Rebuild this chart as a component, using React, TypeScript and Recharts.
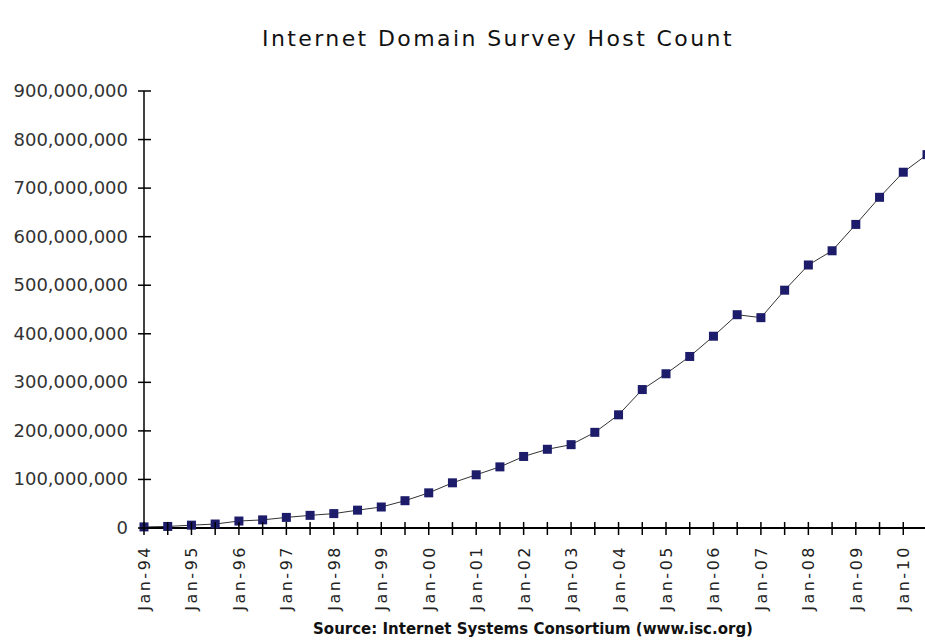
import { LineChart, Line, XAxis, YAxis } from 'recharts';

const periods = [
  'Jan-94', 'Jul-94', 'Jan-95', 'Jul-95', 'Jan-96', 'Jul-96', 'Jan-97', 'Jul-97',
  'Jan-98', 'Jul-98', 'Jan-99', 'Jul-99', 'Jan-00', 'Jul-00', 'Jan-01', 'Jul-01',
  'Jan-02', 'Jul-02', 'Jan-03', 'Jul-03', 'Jan-04', 'Jul-04', 'Jan-05', 'Jul-05',
  'Jan-06', 'Jul-06', 'Jan-07', 'Jul-07', 'Jan-08', 'Jul-08', 'Jan-09', 'Jul-09',
  'Jan-10', 'Jul-10',
];

const hosts = [
  2217000, 3212000, 5846000, 8200000, 14352000, 16729000, 21819000, 26053000,
  29670000, 36739000, 43230000, 56218000, 72398000, 93048000, 109574000, 125888000,
  147345000, 162128000, 171638000, 197000000, 233101000, 285139000, 317646000, 353284000,
  394992000, 439286000, 433193000, 489774000, 541677000, 570938000, 625226000, 681065000,
  732740000, 768913000,
];

const yTicks = [0, 100000000, 200000000, 300000000, 400000000, 500000000, 600000000, 700000000, 800000000, 900000000];

const data = periods.map((p, i) => ({ period: p, hosts: hosts[i] }));

const font = '"DejaVu Sans", Arial, sans-serif';

function XTick(props: any) {
  const { x, y, payload } = props;
  const label: string = payload.value;
  return (
    <g>
      <line x1={x} y1={y - 6} x2={x} y2={y + 7} stroke="#000" strokeWidth={1.5} />
      {label.startsWith('Jan') && (
        <text
          x={x + 6}
          y={y + 17}
          transform={`rotate(-90 ${x + 6} ${y + 17})`}
          textAnchor="end"
          fontSize={16}
          letterSpacing={2.5}
          fill="#222"
          fontFamily={font}
        >
          {label}
        </text>
      )}
    </g>
  );
}

function YTick(props: any) {
  const { x, y, payload } = props;
  return (
    <g>
      <line x1={x - 6} y1={y} x2={x + 7} y2={y} stroke="#000" strokeWidth={1.5} />
      <text x={x - 16} y={y + 6} textAnchor="end" fontSize={18} fill="#333" fontFamily={font}>
        {payload.value.toLocaleString('en-US')}
      </text>
    </g>
  );
}

function SquareDot(props: any) {
  const { cx, cy, index } = props;
  return <rect key={index} x={cx - 4.5} y={cy - 4.5} width={9} height={9} fill="#1c1c6a" />;
}

export default function App() {
  return (
    <div
      style={{
        position: 'absolute',
        left: 0,
        top: 0,
        width: 925,
        height: 643,
        overflow: 'hidden',
        background: '#fff',
        fontFamily: font,
      }}
    >
      <div
        style={{
          position: 'absolute',
          left: 0,
          width: 996,
          top: 26,
          textAlign: 'center',
          fontSize: 22,
          letterSpacing: 2.4,
          color: '#111',
        }}
      >
        Internet Domain Survey Host Count
      </div>
      <LineChart width={930} height={643} data={data} margin={{ top: 91, right: 3, bottom: 0, left: 0 }}>
        <XAxis
          dataKey="period"
          interval={0}
          tickSize={0}
          tickMargin={0}
          tick={<XTick />}
          axisLine={{ stroke: '#000', strokeWidth: 2 }}
          height={115}
        />
        <YAxis
          type="number"
          domain={[0, 900000000]}
          ticks={yTicks}
          width={144}
          tickSize={0}
          tickMargin={0}
          tick={<YTick />}
          axisLine={{ stroke: '#000', strokeWidth: 1.5 }}
        />
        <Line
          type="linear"
          dataKey="hosts"
          stroke="#333"
          strokeWidth={1}
          dot={SquareDot}
          activeDot={false}
          isAnimationActive={false}
        />
      </LineChart>
      <div
        style={{
          position: 'absolute',
          left: 0,
          width: 1066,
          top: 620,
          textAlign: 'center',
          fontSize: 15,
          fontWeight: 'bold',
          color: '#111',
        }}
      >
        Source: Internet Systems Consortium (www.isc.org)
      </div>
    </div>
  );
}
